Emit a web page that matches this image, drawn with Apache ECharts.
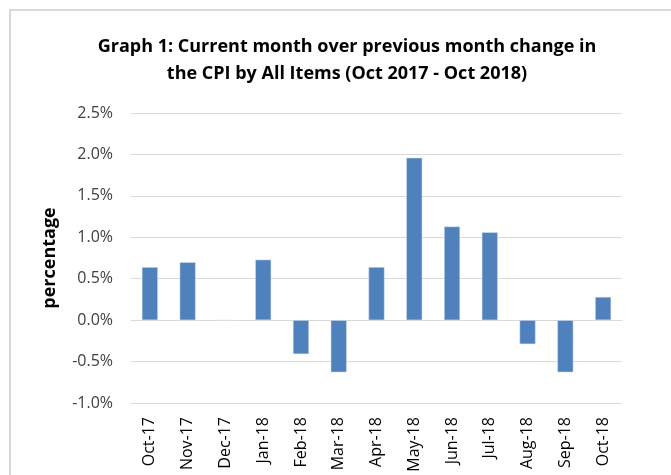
<!DOCTYPE html>
<html>
<head>
<meta charset="utf-8">
<script src="https://cdn.jsdelivr.net/npm/echarts@6/dist/echarts.min.js"></script>
<style>
  html, body { margin: 0; padding: 0; background: #fff; }
  #chart { width: 671px; height: 475px; }
</style>
</head>
<body>
<div id="chart"></div>
<script>
var months = ['Oct-17', 'Nov-17', 'Dec-17', 'Jan-18', 'Feb-18', 'Mar-18', 'Apr-18',
              'May-18', 'Jun-18', 'Jul-18', 'Aug-18', 'Sep-18', 'Oct-18'];
var cpiChange = [0.64, 0.70, 0, 0.73, -0.41, -0.63, 0.64, 1.96, 1.13, 1.06, -0.29, -0.63, 0.28];

var dom = document.getElementById('chart');
var myChart = echarts.init(dom);

var font = "'Open Sans', 'Liberation Sans', sans-serif";

var option = {
    animation: false,
    graphic: [{
        type: 'rect',
        shape: { x: 10, y: 10, width: 700, height: 500 },
        style: { fill: 'none', stroke: '#d9d9d9', lineWidth: 2 }
    }],
    title: {
        text: 'Graph 1: Current month over previous month change in\nthe CPI by All Items (Oct 2017 - Oct 2018)',
        left: 342,
        top: 28,
        textAlign: 'center',
        textStyle: {
            fontFamily: font,
            fontSize: 18,
            fontWeight: 'bold',
            color: '#000',
            lineHeight: 27
        }
    },
    grid: { left: 131, right: 49, top: 113, bottom: 72 },
    xAxis: {
        type: 'category',
        data: months,
        axisLine: { show: true, lineStyle: { color: '#d9d9d9', width: 1 } },
        axisTick: { show: false },
        axisLabel: {
            rotate: 90,
            interval: 0,
            margin: 14,
            color: '#000',
            fontSize: 16,
            fontFamily: font
        }
    },
    yAxis: {
        type: 'value',
        min: -1,
        max: 2.5,
        interval: 0.5,
        name: 'percentage',
        nameLocation: 'middle',
        nameGap: 72,
        nameTextStyle: { fontFamily: font, fontSize: 18, fontWeight: 'bold', color: '#000' },
        axisLine: { show: false },
        axisTick: { show: false },
        splitLine: { lineStyle: { color: '#d9d9d9', width: 1 } },
        axisLabel: {
            margin: 18,
            color: '#404040',
            fontSize: 16,
            fontFamily: font,
            formatter: function (v) { return v.toFixed(1) + '%'; }
        }
    },
    series: [{
        type: 'bar',
        data: cpiChange,
        barWidth: 16,
        itemStyle: { color: '#4f81bd', borderColor: '#dce6f2', borderWidth: 0.5 }
    }]
};

myChart.setOption(option);
</script>
</body>
</html>
